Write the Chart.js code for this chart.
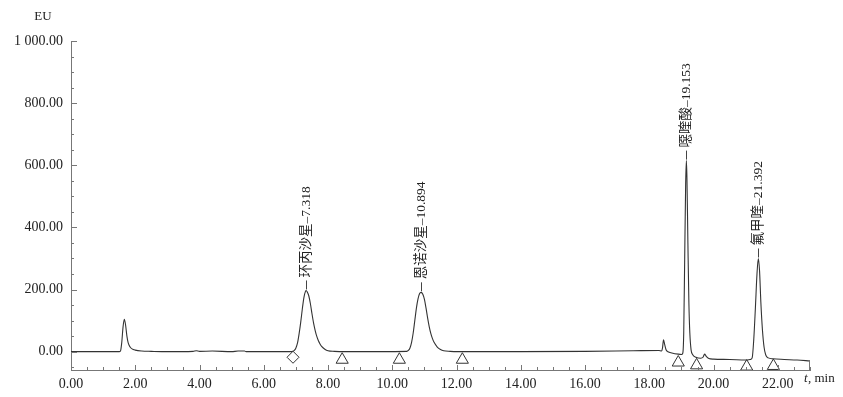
<!DOCTYPE html>
<html>
<head>
<meta charset="utf-8">
<script src="https://cdn.jsdelivr.net/npm/chart.js@4/dist/chart.umd.min.js"></script>
<style>
  body { margin: 0; background: #fff; }
  #wrap { position: relative; width: 843px; height: 397px; }
</style>
</head>
<body>
<div id="wrap"><canvas id="chromChart" width="843" height="397"></canvas></div>
<script>
// chromatogram trace (t in min, signal in EU)
const traceTime = [
  0, 1.5, 1.54, 1.58, 1.62, 1.66, 1.7, 1.74, 1.78, 1.84, 1.9, 2.0, 2.2, 2.5, 3.0,
  3.8, 3.9, 4.0, 4.4, 5.0, 5.2, 5.4, 5.45, 6.0, 6.85,
  6.9, 6.95, 7.0, 7.05, 7.1, 7.15, 7.2, 7.25, 7.3, 7.318, 7.35, 7.4, 7.45, 7.5,
  7.55, 7.6, 7.65, 7.7, 7.75, 7.8, 7.9, 8.0, 8.2, 8.5,
  10.45, 10.5, 10.55, 10.6, 10.65, 10.7, 10.75, 10.8, 10.85, 10.894, 10.95, 11.0,
  11.05, 11.1, 11.15, 11.2, 11.25, 11.3, 11.4, 11.5, 11.6, 11.8, 12.0,
  14.0, 16.0, 17.5, 18.3, 18.38, 18.41, 18.44, 18.48, 18.52, 18.58, 18.7, 18.9,
  19.0, 19.04, 19.07, 19.1, 19.13, 19.153, 19.17, 19.2, 19.23, 19.26, 19.3, 19.35,
  19.45, 19.6, 19.67, 19.72, 19.77, 19.85, 20.0, 20.5, 21.0, 21.15, 21.2, 21.25,
  21.3, 21.35, 21.392, 21.43, 21.47, 21.52, 21.57, 21.62, 21.7, 21.85, 22.2, 22.6, 23.0
];
const traceEU = [
  0, 0, 2, 30, 80, 104, 85, 50, 28, 15, 9, 5, 2, 1, 0,
  1, 3, 1, 2, 0, 2, 2, 0, 0, 0,
  1, 4, 12, 28, 58, 95, 138, 175, 195, 197, 193, 180, 155, 122,
  92, 68, 49, 35, 25, 17, 8, 3, 1, 0,
  1, 4, 12, 30, 60, 100, 140, 170, 187, 191, 185, 168,
  140, 108, 80, 58, 42, 30, 15, 7, 3, 1, 0,
  0, 1, 3, 4, 2, 12, 38, 22, 6, 0, -4, -8,
  -9, -5, 60, 300, 540, 615, 560, 350, 160, 60, 5, -10,
  -18, -21, -18, -8, -15, -22, -24, -25, -27, -25, -20, 40,
  140, 250, 300, 260, 160, 70, 15, -10, -20, -23, -25, -27, -30
];

// peak labels
const peakNames = ['环丙沙星–7.318', '恩诺沙星–10.894', '噁喹酸–19.153', '氟甲喹–21.392'];
const peakTime = [7.318, 10.894, 19.153, 21.392];
const peakEU = [197, 191, 615, 300];

// integration markers
const diamondTime = [6.91];
const diamondEU = [-18];
const triangleTime = [8.44, 10.22, 12.18, 18.9, 19.47, 21.03, 21.86];
const triangleEU = [-26, -26, -26, -35, -44, -48, -46];

// axes
const xMajorTicks = [0, 2, 4, 6, 8, 10, 12, 14, 16, 18, 20, 22];
const yMajorTicks = [0, 200, 400, 600, 800, 1000];
const xMin = 0, xMax = 23, yMin = -59, yMax = 1000;

function pairs(xs, ys) {
    return xs.map(function (x, i) { return { x: x, y: ys[i] }; });
}

function fmtEU(v) {
    var s = v.toFixed(2);
    if (v >= 1000) s = s.slice(0, s.length - 6) + ' ' + s.slice(s.length - 6);
    return s;
}

var xMinor = [];
for (var t = xMin; t <= xMax + 1e-9; t += 0.5) xMinor.push(+t.toFixed(2));
var yMinor = [];
for (var v = -50; v <= yMax + 1e-9; v += 50) yMinor.push(v);

const serif = '"Liberation Serif", "Noto Sans CJK SC", serif';

// inward tick marks, end mark, axis titles and peak labels
const decorations = {
    id: 'decorations',
    afterDraw: function (chart) {
        const ctx = chart.ctx;
        const xs = chart.scales.x, ys = chart.scales.y;
        const area = chart.chartArea;
        ctx.save();
        ctx.strokeStyle = '#777';
        ctx.lineWidth = 1;
        ctx.beginPath();
        xMinor.forEach(function (t) {
            const px = Math.round(xs.getPixelForValue(t)) + 0.5;
            const len = xMajorTicks.indexOf(t) >= 0 ? 5 : 3;
            ctx.moveTo(px, area.bottom);
            ctx.lineTo(px, area.bottom - len);
        });
        const endPx = Math.round(xs.getPixelForValue(xMax)) - 0.5;
        ctx.moveTo(endPx, area.bottom);
        ctx.lineTo(endPx, area.bottom - 10);
        yMinor.forEach(function (v) {
            const py = Math.round(ys.getPixelForValue(v)) + 0.5;
            const len = yMajorTicks.indexOf(v) >= 0 ? 6 : 3;
            ctx.moveTo(area.left, py);
            ctx.lineTo(area.left + len, py);
        });
        ctx.stroke();

        ctx.fillStyle = '#222';
        ctx.font = '13px ' + serif;
        ctx.textBaseline = 'middle';
        ctx.textAlign = 'center';
        ctx.fillText('EU', 43, 17);
        ctx.textAlign = 'left';
        ctx.font = 'italic 13px ' + serif;
        ctx.fillText('t', 804, 379);
        ctx.font = '13px ' + serif;
        ctx.fillText(', min', 808, 379);

        // peak names
        ctx.strokeStyle = '#444';
        peakNames.forEach(function (name, i) {
            const px = xs.getPixelForValue(peakTime[i]);
            const py = ys.getPixelForValue(peakEU[i]);
            ctx.beginPath();
            ctx.moveTo(Math.round(px) + 0.5, py - 1);
            ctx.lineTo(Math.round(px) + 0.5, py - 10);
            ctx.stroke();
            ctx.save();
            ctx.translate(px, py - 13);
            ctx.rotate(-Math.PI / 2);
            ctx.font = '13.5px ' + serif;
            ctx.textAlign = 'left';
            ctx.textBaseline = 'middle';
            ctx.fillText(name, 0, 0);
            ctx.restore();
        });
        ctx.restore();
    }
};

new Chart(document.getElementById('chromChart'), {
    type: 'line',
    data: {
        datasets: [
            {
                data: pairs(traceTime, traceEU),
                borderColor: '#333',
                borderWidth: 1.1,
                pointRadius: 0,
                cubicInterpolationMode: 'monotone',
                fill: false
            },
            {
                data: pairs(diamondTime, diamondEU),
                showLine: false,
                pointStyle: 'rectRot',
                pointRadius: 6,
                borderColor: '#333',
                borderWidth: 1,
                backgroundColor: 'transparent'
            },
            {
                data: pairs(triangleTime, triangleEU),
                showLine: false,
                pointStyle: 'triangle',
                pointRadius: 7,
                borderColor: '#333',
                borderWidth: 1,
                backgroundColor: 'transparent'
            }
        ]
    },
    options: {
        responsive: false,
        animation: false,
        layout: { padding: { top: 41, right: 33, bottom: 0, left: 0 } },
        plugins: { legend: { display: false }, tooltip: { enabled: false } },
        scales: {
            x: {
                type: 'linear',
                min: xMin,
                max: xMax,
                afterFit: function (s) { s.height = 27; },
                afterBuildTicks: function (s) { s.ticks = xMinor.map(function (t) { return { value: t }; }); },
                grid: { display: false, drawTicks: false },
                border: { display: true, color: '#777', width: 1 },
                ticks: {
                    autoSkip: false,
                    maxRotation: 0,
                    padding: 6,
                    color: '#222',
                    font: { family: serif, size: 14 },
                    callback: function (v) { return xMajorTicks.indexOf(v) >= 0 ? v.toFixed(2) : ''; }
                }
            },
            y: {
                type: 'linear',
                min: yMin,
                max: yMax,
                afterFit: function (s) { s.width = 71; },
                afterBuildTicks: function (s) { s.ticks = yMinor.map(function (v) { return { value: v }; }); },
                grid: { display: false, drawTicks: false },
                border: { display: true, color: '#777', width: 1 },
                ticks: {
                    autoSkip: false,
                    padding: 8,
                    color: '#222',
                    font: { family: serif, size: 14 },
                    callback: function (v) { return yMajorTicks.indexOf(v) >= 0 ? fmtEU(v) : ''; }
                }
            }
        }
    },
    plugins: [decorations]
});
</script>
</body>
</html>
